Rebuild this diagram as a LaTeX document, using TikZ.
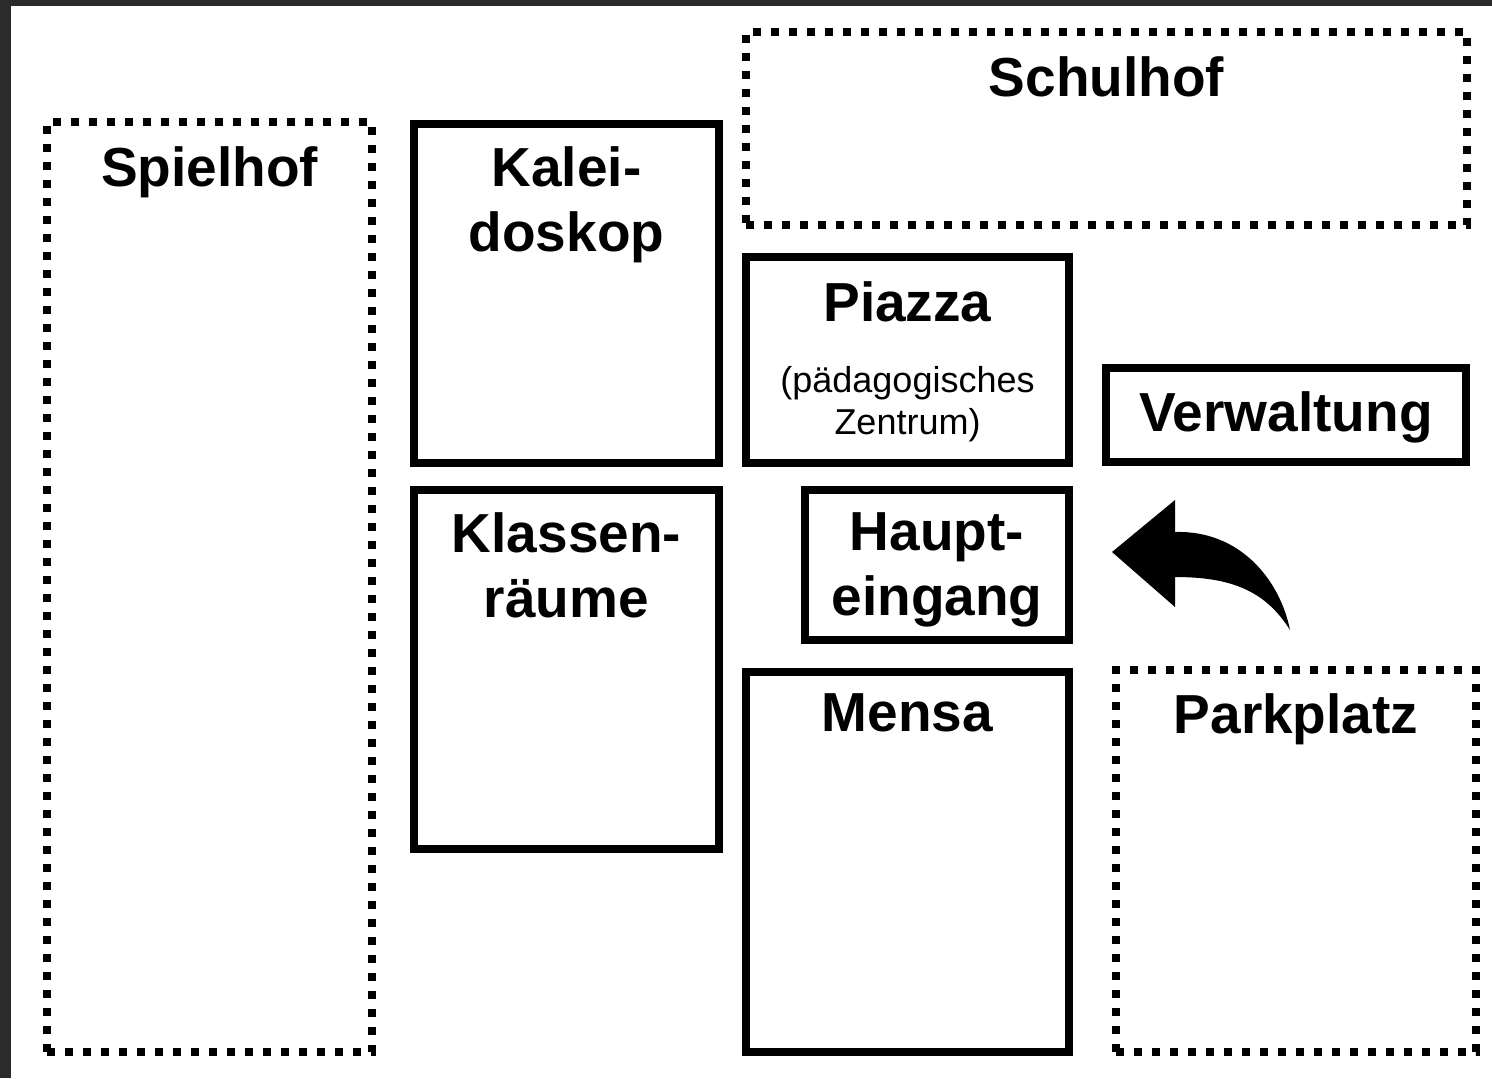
\documentclass[tikz,border=0pt]{standalone}
\usepackage{fontspec}
\setmainfont{Liberation Sans}
\usetikzlibrary{positioning}
\definecolor{framegray}{HTML}{2B2B2B}

\begin{document}
\begin{tikzpicture}
	[x=0.5pt, y=-0.5pt,
		room/.style		={rectangle, draw=black, line width=4pt, inner sep=0pt},
		yard/.style		={rectangle, draw=black, line width=4pt, inner sep=0pt,
									dash pattern=on 4pt off 5pt},
		title/.style		={font=\bfseries\fontsize{27.5}{32.5}\selectfont,
									align=center, inner sep=0pt},
		note/.style		={font=\fontsize{18}{21}\selectfont,
									align=center, inner sep=0pt}
	]
\useasboundingbox (0,0) rectangle (1492,1078);
\fill [white] (0,0) rectangle (1492,1078);
\fill [framegray] (0,0) rectangle (1492,6);
\fill [framegray] (0,0) rectangle (11,1078);

% yards
	\node [yard, minimum width=162.5pt, minimum height=465pt] (spielhof)	at (209.5,587)	{};
	\node [yard, minimum width=360.5pt, minimum height=96.5pt] (schulhof)	at (1106.5,128.5)	{};
	\node [yard, minimum width=180pt, minimum height=191pt] (parkplatz)		at (1296,861)		{};

% buildings
	\node [room, minimum width=152.5pt, minimum height=169.5pt] (kaleidoskop)	at (566.5,293.5)	{};
	\node [room, minimum width=152.5pt, minimum height=179.5pt] (klassen)		at (566.5,669.5)	{};
	\node [room, minimum width=161.5pt, minimum height=103pt] (piazza)			at (907.5,360)		{};
	\node [room, minimum width=180pt, minimum height=47pt] (verwaltung)			at (1286,415)		{};
	\node [room, minimum width=132pt, minimum height=75pt] (haupteingang)		at (937,565)		{};
	\node [room, minimum width=161.5pt, minimum height=190pt] (mensa)			at (907.5,862)		{};

% labels
	\node [title, below=14pt of spielhof.north]		(spielhof text)		{Spielhof};
	\node [title, below=14pt of schulhof.north]		(schulhof text)		{Schulhof};
	\node [title, below=13.5pt of parkplatz.north]	(parkplatz text)	{Parkplatz};
	\node [title, below=13pt of kaleidoskop.north]	(kaleidoskop text)	{Kalei-\\doskop};
	\node [title, below=13pt of klassen.north]		(klassen text)		{Klassen-\\räume};
	\node [title, below=14pt of piazza.north]		(piazza text)		{Piazza};
	\node [note, below=22pt of piazza text]			(piazza note)		{(pädagogisches\\Zentrum)};
	\node [title]	at ([yshift=-1pt]verwaltung.center)	(verwaltung text)	{Verwaltung};
	\node [title, below=13pt of haupteingang.north]	(haupteingang text)	{Haupt-\\eingang};
	\node [title, below=12.5pt of mensa.north]		(mensa text)		{Mensa};

% way in
\fill [black] (1112,552) -- (1175,500) -- (1175,532)
	.. controls (1240,530) and (1280,580) .. (1290,630)
	.. controls (1265,590) and (1230,577) .. (1175,577)
	-- (1175,607) -- cycle;
\end{tikzpicture}
\end{document}
